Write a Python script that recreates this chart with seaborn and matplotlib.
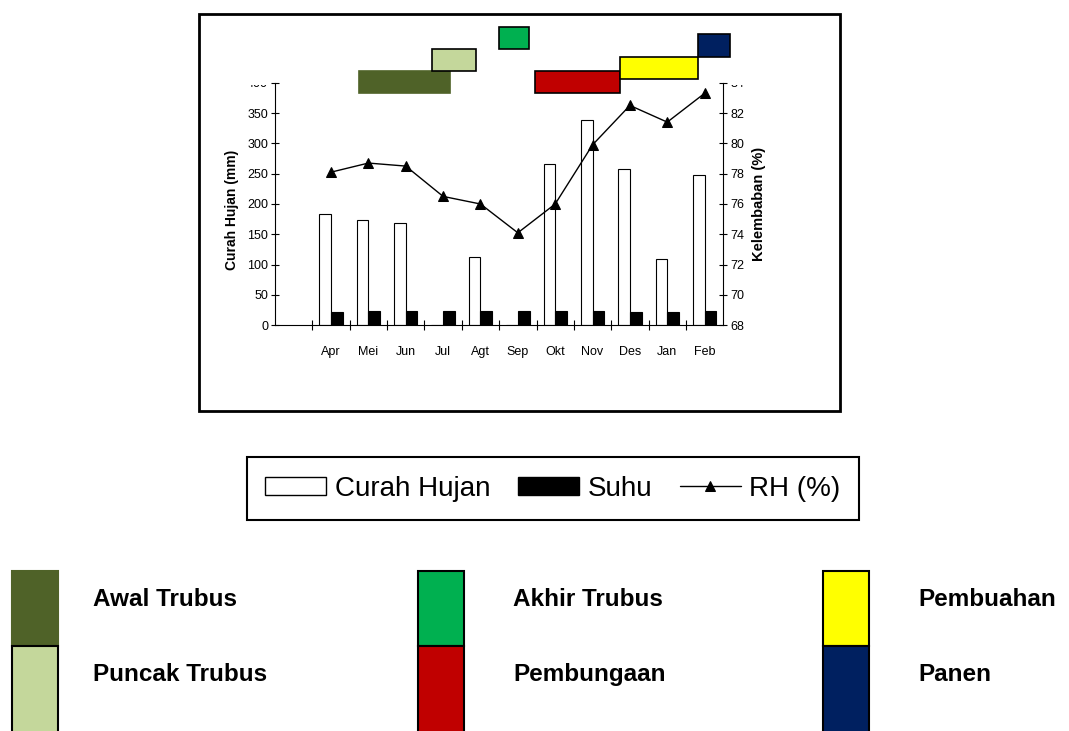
import numpy as np
import pandas as pd
import matplotlib
matplotlib.use("Agg")
import matplotlib.pyplot as plt
import seaborn as sns
from matplotlib.patches import Patch, Rectangle
from matplotlib.ticker import FixedLocator
from matplotlib.transforms import Bbox, TransformedBbox

# Data
bulan = ["", "Apr", "Mei", "Jun", "Jul", "Agt", "Sep", "Okt", "Nov", "Des", "Jan", "Feb"]
curah_hujan = [184, 174, 168, 0, 113, 0, 266, 338, 258, 109, 247]
suhu = [21.5, 24, 24, 24, 24, 24, 24, 24, 21.5, 21.5, 24]
rh = [78.1, 78.7, 78.5, 76.5, 76.0, 74.1, 76.0, 79.9, 82.5, 81.4, 83.3]

# Fase tanaman (dalam satuan posisi bulan pada sumbu x, dasar dalam satuan mm)
fase = ["Awal Trubus", "Puncak Trubus", "Akhir Trubus", "Pembungaan", "Pembuahan", "Panen"]
fase_warna = ["#4F6228", "#C4D79B", "#00B050", "#C00000", "#FFFF00", "#002060"]
fase_mulai = [1.75, 3.71, 5.50, 6.47, 8.74, 10.83]
fase_selesai = [4.19, 4.87, 6.30, 8.74, 10.83, 11.68]
fase_dasar = [383, 419, 455, 383, 406, 443]
fase_tinggi = 37

df = pd.DataFrame({
    "Bulan": bulan[1:] * 2,
    "Nilai": curah_hujan + suhu,
    "Seri": ["Curah Hujan"] * len(curah_hujan) + ["Suhu"] * len(suhu),
})

sns.set_style("ticks")
plt.rcParams["font.family"] = ["Liberation Sans", "DejaVu Sans"]
plt.rcParams["axes.edgecolor"] = "black"
plt.rcParams["axes.linewidth"] = 0.8
plt.rcParams["text.color"] = "black"
plt.rcParams["axes.labelcolor"] = "black"
plt.rcParams["xtick.color"] = "black"
plt.rcParams["ytick.color"] = "black"

W, H = 1069, 731
fig = plt.figure(figsize=(W / 100, H / 100), dpi=100)

# latar: bingkai grafik + keterangan fase
bg = fig.add_axes([0, 0, 1, 1], zorder=0)
bg.set_xlim(0, W)
bg.set_ylim(H, 0)
bg.axis("off")
bg.add_patch(Rectangle((199, 14), 641, 397, fill=False, edgecolor="black", linewidth=2))

kolom_x = [12, 418, 823]
teks_x = [93, 513, 918]
baris_y = [571, 646]
for i, (nama, warna) in enumerate(zip(fase, fase_warna)):
    c, r = i // 2, i % 2
    tepi = warna if nama == "Awal Trubus" else "black"
    bg.add_patch(Rectangle((kolom_x[c], baris_y[r]), 46, 75 + 20 * r,
                           facecolor=warna, edgecolor=tepi, linewidth=1.5))
    bg.text(teks_x[c], baris_y[r] + 35, nama, fontsize=17.5, fontweight="bold",
            va="baseline", ha="left", color="black")

# grafik utama
ax = fig.add_axes([275 / W, 1 - 325.3 / H, 448.3 / W, 242.6 / H], zorder=1)
sns.barplot(data=df, x="Bulan", y="Nilai", hue="Seri", order=bulan,
            hue_order=["Curah Hujan", "Suhu"], palette=["white", "black"],
            saturation=1, edgecolor="black", linewidth=0.8, width=0.625,
            legend=False, ax=ax)

for nama, warna, a, b, d in zip(fase, fase_warna, fase_mulai, fase_selesai, fase_dasar):
    tepi = warna if nama == "Awal Trubus" else "black"
    ax.bar(a, fase_tinggi, width=b - a, bottom=d, align="edge", color=warna,
           edgecolor=tepi, linewidth=1.2, clip_on=False, zorder=5)

ax2 = ax.twinx()
sns.lineplot(x=np.arange(1, len(bulan)), y=rh, color="black", linewidth=1,
             marker="^", markersize=7, markeredgecolor="black", ax=ax2)

ax.set_xlim(-0.5, len(bulan) - 0.5)
ax.set_ylim(0, 400)
ax.set_yticks(range(0, 401, 50))
ax2.set_ylim(68, 84)
ax2.set_yticks(range(68, 85, 2))

ax.set_xlabel("")
ax.set_ylabel("Curah Hujan (mm)", fontsize=10, fontweight="bold")
ax2.set_ylabel("Kelembaban (%)", fontsize=10.5, fontweight="bold")
ax.yaxis.set_label_coords(-0.08, 0.475)
ax2.yaxis.set_label_coords(1.063, 0.5)

ax.tick_params(axis="y", direction="inout", length=6, width=0.8, labelsize=9, pad=2)
ax2.tick_params(axis="y", direction="inout", length=6, width=0.8, labelsize=9, pad=2)
ax.tick_params(axis="x", which="major", length=0, labelsize=9, pad=15)
ax.xaxis.set_minor_locator(FixedLocator(np.arange(0.5, len(bulan) - 1, 1)))
ax.tick_params(axis="x", which="minor", direction="inout", length=7, width=0.8)

ax.spines["top"].set_visible(False)
ax.spines["right"].set_visible(False)
ax2.spines["top"].set_visible(False)
ax2.spines["left"].set_visible(False)
ax2.spines["bottom"].set_visible(False)

# label sumbu paling atas terpotong seperti aslinya
klip = TransformedBbox(Bbox([[0, 0], [1, 1 - 84.5 / H]]), fig.transFigure)
for sumbu in (ax, ax2):
    for t in sumbu.yaxis.get_major_ticks():
        t.label1.set_clip_box(klip)
        t.label1.set_clip_on(True)
        t.label2.set_clip_box(klip)
        t.label2.set_clip_on(True)

handles = [Patch(facecolor="white", edgecolor="black", linewidth=1),
           Patch(facecolor="black", edgecolor="black"),
           ax2.lines[0]]
leg = fig.legend(handles, ["Curah Hujan", "Suhu", "RH (%)"], loc="center",
                 bbox_to_anchor=(553 / W, 1 - 488.5 / H), ncol=3, fontsize=20,
                 frameon=True, fancybox=False, edgecolor="black", framealpha=1,
                 handlelength=2.2, handleheight=0.6, handletextpad=0.3,
                 columnspacing=1.0, borderpad=0.65, numpoints=1)
leg.get_frame().set_linewidth(1.5)

fig.savefig("out.png", dpi=100)
